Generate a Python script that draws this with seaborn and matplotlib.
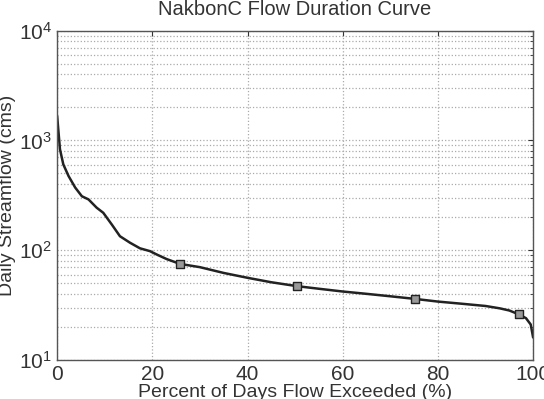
import numpy as np
import pandas as pd
import seaborn as sns
import matplotlib.pyplot as plt

# percent of days exceeded vs daily streamflow (cms)
pct = [0, 0.3, 0.6, 1.3, 2.4, 3.8, 5.2, 6.6, 8.3, 9.7, 11.5, 13.2, 15.3, 17.4, 19.5,
       21, 23, 25.8, 30, 35, 40, 45, 50.4, 55, 60, 65, 70, 75.1, 80, 85, 90, 93,
       95, 97, 98.5, 99.5, 100]
flow = [1680, 1180, 830, 605, 474, 372, 310, 290, 244, 219, 171, 134, 117, 104, 98,
        91, 83, 75, 70, 62, 56, 51, 47, 44.5, 42, 40, 38, 36, 34, 32.5, 31, 29.5,
        28.2, 26, 24, 21, 16]
marker_pct = [25.8, 50.4, 75.1, 97.0]
marker_flow = [75, 47, 36, 26]

df = pd.DataFrame({'pct': pct, 'flow': flow})
mk = pd.DataFrame({'pct': marker_pct, 'flow': marker_flow})

sns.set_style('white')
plt.rcParams['font.family'] = ['Liberation Sans', 'DejaVu Sans']
plt.rcParams['mathtext.fontset'] = 'custom'
plt.rcParams['mathtext.rm'] = 'Liberation Sans'

fig = plt.figure(figsize=(5.44, 3.99), dpi=100)
ax = fig.add_axes([0.105, 0.098, 0.875, 0.825])

sns.lineplot(data=df, x='pct', y='flow', color='#222222', linewidth=1.8, ax=ax)
sns.scatterplot(data=mk, x='pct', y='flow', marker='s', s=30, color='#999999',
                edgecolor='#222222', linewidth=1.0, ax=ax, zorder=3)

ax.set_yscale('log')
ax.set_xlim(0, 100)
ax.set_ylim(10, 10000)
ax.set_xticks([0, 20, 40, 60, 80, 100])

ax.grid(True, which='major', axis='both', color='#aaaaaa', linestyle=':', linewidth=0.9)
ax.grid(True, which='minor', axis='y', color='#aaaaaa', linestyle=':', linewidth=0.9)
ax.tick_params(which='both', direction='in', top=True, right=True, labelsize=15, colors='#333333')
ax.tick_params(axis='x', pad=4)
for s in ax.spines.values():
    s.set_color('#555555')
    s.set_linewidth(1.0)

ax.set_title('NakbonC Flow Duration Curve', fontsize=14.5, color='#333333', pad=11)
ax.set_xlabel('Percent of Days Flow Exceeded (%)', fontsize=14, color='#333333', labelpad=0)
ax.set_ylabel('Daily Streamflow (cms)', fontsize=14, color='#333333', labelpad=2)

fig.savefig('out.png', dpi=100)
